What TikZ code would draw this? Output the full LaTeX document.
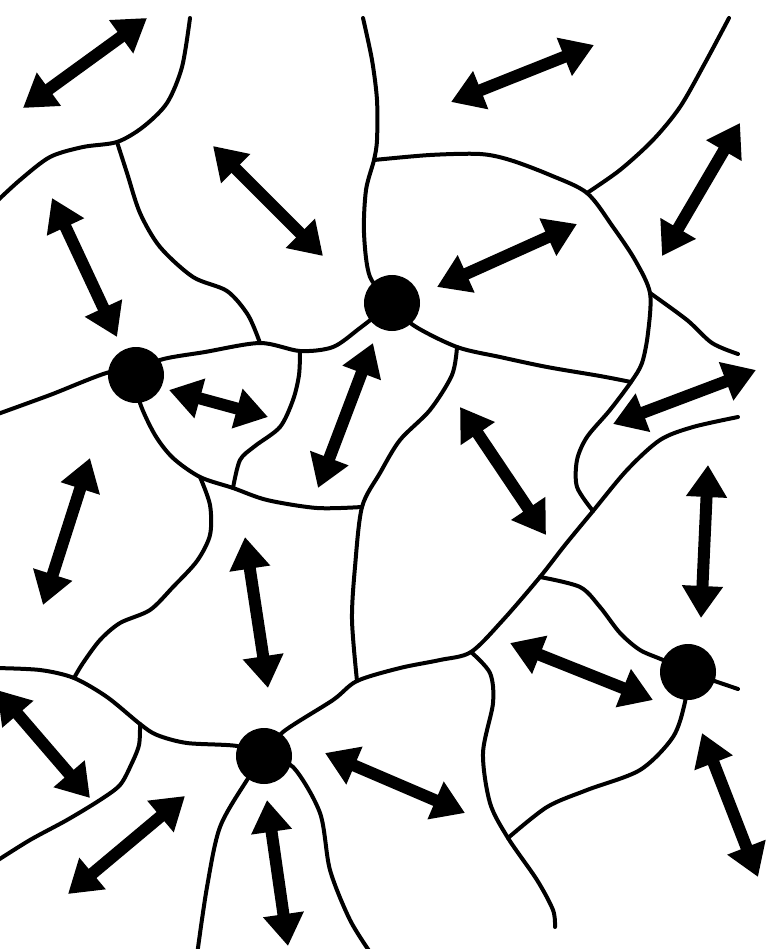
\documentclass[tikz,border=0pt]{standalone}
\usetikzlibrary{arrows.meta}
\begin{document}
\begin{tikzpicture}[x=1pt,y=-1pt,
  gb/.style={line width=4pt,line cap=round,line join=round},
  dbl/.style={line width=12pt,{Triangle[length=32pt,width=39pt]}-{Triangle[length=32pt,width=39pt]}},
  dot/.style={circle,fill=black,minimum size=56pt,inner sep=0pt}]
\useasboundingbox (0,0) rectangle (778,949);
\clip (0,0) rectangle (778,949);
% junctions and dot centres
\coordinate (Dtop) at (392,303);
\coordinate (Dleft) at (136,375);
\coordinate (Dbr) at (688,672);
\coordinate (Dbot) at (264,756);
\coordinate (J1) at (117,142);
\coordinate (J2) at (260,343);
\coordinate (J3) at (374,160);
\coordinate (J4) at (587,193);
\coordinate (J5) at (650,293);
\coordinate (J6) at (631,382);
\coordinate (J7) at (457,347);
\coordinate (J8) at (362,507);
\coordinate (J9) at (300,351);
\coordinate (J10) at (233,488);
\coordinate (J11) at (200,477);
\coordinate (J12) at (74,678);
\coordinate (J13) at (140,724);
\coordinate (J14) at (357,681);
\coordinate (J15) at (471,652);
\coordinate (J16) at (540,577);
\coordinate (J17) at (593,511);
\coordinate (J18) at (508,838);
% grain boundaries
\draw[gb] plot[smooth] coordinates {(190,18) (182,67) (167,103) (143,127) (J1) (83,147) (50,157) (20,180) (-5,203)};
\draw[gb] plot[smooth] coordinates {(J1) (127,173) (140,213) (160,247) (193,277) (227,291) (248,315) (J2)};
\draw[gb] plot[smooth] coordinates {(-5,415) (50,395) (110,372) (Dleft)};
\draw[gb] plot[smooth] coordinates {(Dleft) (160,360) (205,352) (J2) (J9) (333,347) (360,328) (Dtop)};
\draw[gb] plot[smooth] coordinates {(363,18) (372,60) (377,100) (377,140) (J3) (366,190) (364,233) (370,277) (Dtop)};
\draw[gb] plot[smooth] coordinates {(J3) (430,155) (480,154) (510,160) (550,175) (J4) (613,227) (635,260) (J5) (648,333) (642,363) (J6) (610,410) (587,437) (577,460) (577,487) (J17)};
\draw[gb] plot[smooth] coordinates {(J4) (620,170) (653,140) (680,107) (705,63) (729,18)};
\draw[gb] plot[smooth] coordinates {(J5) (687,320) (712,343) (738,354)};
\draw[gb] plot[smooth] coordinates {(Dtop) (413,325) (J7) (500,357) (547,367) (600,376) (J6)};
\draw[gb] plot[smooth] coordinates {(J7) (452,375) (430,410) (400,440) (380,473) (J8) (355,567) (352,620) (J14)};
\draw[gb] plot[smooth] coordinates {(Dleft) (140,403) (155,435) (173,458) (J11) (J10) (267,500) (317,508) (J8)};
\draw[gb] plot[smooth] coordinates {(J10) (240,460) (255,446) (280,427) (293,400) (299,375) (J9)};
\draw[gb] plot[smooth] coordinates {(J11) (210,505) (210,535) (197,561) (173,587) (150,610) (120,623) (100,640) (83,663) (J12)};
\draw[gb] plot[smooth] coordinates {(-5,668) (40,670) (J12) (107,697) (J13) (157,735) (187,743) (237,746) (Dbot)};
\draw[gb] plot[smooth] coordinates {(J13) (139,745) (131,765) (120,785) (100,800) (67,820) (30,840) (-5,862)};
\draw[gb] plot[smooth] coordinates {(Dbot) (283,732) (333,700) (J14) (400,668) (440,660) (J15) (503,620) (J16) (565,545) (J17) (627,470) (660,440) (693,427) (738,417)};
\draw[gb] plot[smooth] coordinates {(J16) (580,587) (600,607) (620,633) (640,650) (663,660) (Dbr)};
\draw[gb] (Dbr) -- (738,689);
\draw[gb] plot[smooth] coordinates {(Dbr) (685,702) (673,737) (640,770) (587,790) (547,807) (J18)};
\draw[gb] plot[smooth] coordinates {(J15) (490,673) (493,703) (483,753) (490,803) (J18) (537,880) (553,910) (555,927)};
\draw[gb] plot[smooth] coordinates {(Dbot) (247,780) (220,827) (207,887) (197,955)};
\draw[gb] plot[smooth] coordinates {(Dbot) (293,767) (320,813) (330,870) (350,920) (372,955)};
% triple-junction dots
\node[dot] (dotTop) at (Dtop) {};
\node[dot] (dotLeft) at (Dleft) {};
\node[dot] (dotBR) at (Dbr) {};
\node[dot] (dotBot) at (Dbot) {};
% double arrows
\draw[dbl] (23,108) -- (147,18);
\draw[dbl] (213,146) -- (323,256);
\draw[dbl] (52,198) -- (117,337);
\draw[dbl] (451,102) -- (594,45);
\draw[dbl] (437,287) -- (577,224);
\draw[dbl] (662,256) -- (740,123);
\draw[dbl] (169,390) -- (268,417);
\draw[dbl] (373,343) -- (318,488);
\draw[dbl] (90,458) -- (43,605);
\draw[dbl] (245,537) -- (268,688);
\draw[dbl] (460,407) -- (546,535);
\draw[dbl] (613,424) -- (756,370);
\draw[dbl] (708,465) -- (701,618);
\draw[dbl] (-3,690) -- (90,798);
\draw[dbl] (185,796) -- (68,894);
\draw[dbl] (267,800) -- (288,946);
\draw[dbl] (325,753) -- (465,813);
\draw[dbl] (510,643) -- (653,700);
\draw[dbl] (702,733) -- (758,877);
\end{tikzpicture}
\end{document}
